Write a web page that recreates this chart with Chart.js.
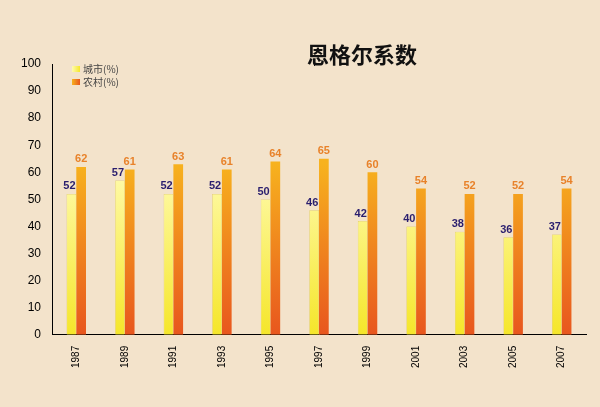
<!DOCTYPE html>
<html><head><meta charset="utf-8">
<script src="https://cdn.jsdelivr.net/npm/chart.js@4"></script>
<style>html,body{margin:0;background:#F3E3CB}#w{width:600px;height:407px;position:relative}</style>
</head><body><div id="w"><canvas id="c"></canvas></div>
<script>
const years = ['1987','1989','1991','1993','1995','1997','1999','2001','2003','2005','2007'];
const urban = [52,57,52,52,50,46,42,40,38,36,37];
const rural = [62,61,63,61,64,65,60,54,52,52,54];
const yTicks = [0,10,20,30,40,50,60,70,80,90,100];
const seriesNames = ['城市(%)', '农村(%)'];

function grad(ctx, top, bottom) {
  const a = ctx.chart.chartArea;
  if (!a) return top;
  const g = ctx.chart.ctx.createLinearGradient(0, a.top + 100, 0, a.bottom);
  g.addColorStop(0, top); g.addColorStop(1, bottom);
  return g;
}

const decor = {
  id: 'decor',
  afterDatasetsDraw(chart) {
    const c = chart.ctx;
    c.save();
    c.font = 'bold 11px Arial, "Liberation Sans", sans-serif';
    c.textAlign = 'center'; c.textBaseline = 'bottom';
    chart.data.datasets.forEach((ds, i) => {
      c.fillStyle = i === 0 ? '#2A1E6E' : '#E8822A';
      chart.getDatasetMeta(i).data.forEach((b, j) => {
        c.fillText(ds.data[j], b.x - (i === 0 ? 2 : 0), b.y - 2);
      });
    });
    // title
    c.fillStyle = '#111';
    c.textBaseline = 'middle';
    c.font = 'bold 22px "Noto Sans CJK SC", sans-serif';
    c.fillText('恩格尔系数', 362, 55);
    // legend
    const cols = [['#FFFBB0', '#F5E62A'], ['#F7B21E', '#E8561E']];
    c.textAlign = 'left';
    c.font = '10px "Noto Sans CJK SC", serif';
    seriesNames.forEach((n, i) => {
      const y = 69 + i * 13;
      const g = c.createLinearGradient(72, 0, 80, 0);
      g.addColorStop(0, cols[i][0]); g.addColorStop(1, cols[i][1]);
      c.fillStyle = g; c.fillRect(72, y - 3, 8, 6);
      c.fillStyle = '#444'; c.fillText(n, 83, y);
    });
    c.restore();
  }
};

new Chart(document.getElementById('c'), {
  type: 'bar',
  data: {
    labels: years,
    datasets: [
      { label: seriesNames[0], data: urban, borderColor: '#D8C040', borderWidth: 0.5,
        backgroundColor: ctx => grad(ctx, '#FFFBB0', '#F5E62A') },
      { label: seriesNames[1], data: rural, borderWidth: 0,
        backgroundColor: ctx => grad(ctx, '#F7B21E', '#E8561E') }
    ]
  },
  options: {
    responsive: true, maintainAspectRatio: false, animation: false,
    layout: { padding: { top: 64, right: 14, left: 18, bottom: 36 } },
    categoryPercentage: 0.4, barPercentage: 1,
    plugins: { title: { display: false }, legend: { display: false }, tooltip: { enabled: false } },
    scales: {
      x: { grid: { display: false }, border: { color: '#000', width: 1 },
        ticks: { color: '#000', maxRotation: 90, minRotation: 90, font: { size: 10, family: 'Arial, "Liberation Sans"' } } },
      y: { min: 0, max: 100, afterBuildTicks: ax => { ax.ticks = yTicks.map(v => ({ value: v })); },
        grid: { display: false }, border: { color: '#000', width: 1 },
        ticks: { color: '#000', font: { size: 12, family: 'Arial, "Liberation Sans"' } } }
    }
  },
  plugins: [decor]
});
</script></body></html>
